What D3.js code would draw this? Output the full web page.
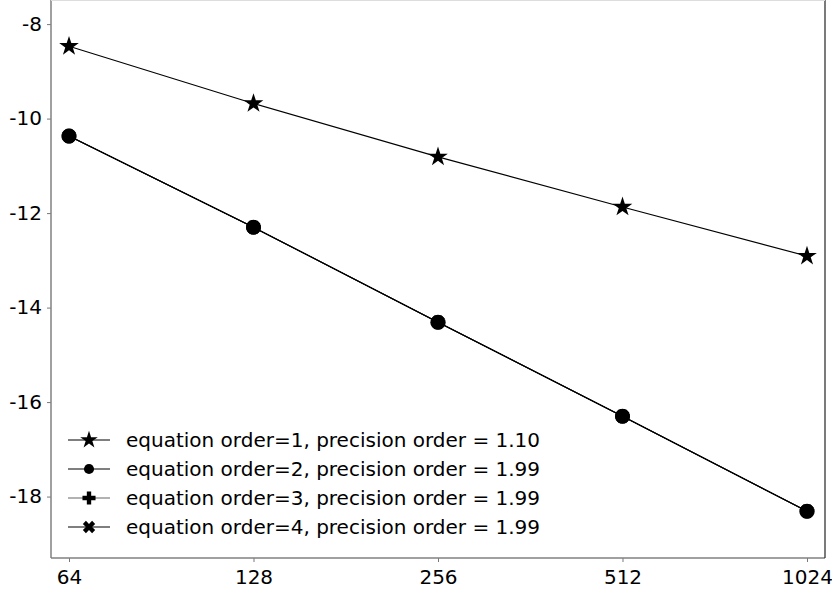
<!DOCTYPE html>
<html><head><meta charset="utf-8">
<script src="https://cdn.jsdelivr.net/npm/d3@7"></script>
<style>body{margin:0;background:#fff}svg{display:block}text{font-family:"DejaVu Sans",sans-serif}</style>
</head><body>
<svg id="c" width="832" height="593"></svg>
<script>
const xValues = [64, 128, 256, 512, 1024];
const xTickLabels = ["64", "128", "256", "512", "1024"];
const yTicks = [-18, -16, -14, -12, -10, -8];
const order1 = [-8.47, -9.68, -10.81, -11.87, -12.91];
const order2 = [-10.37, -12.30, -14.31, -16.30, -18.31];
const order3 = [-10.37, -12.30, -14.31, -16.30, -18.31];
const order4 = [-10.37, -12.30, -14.31, -16.30, -18.31];
const labels = [
  "equation order=1, precision order = 1.10",
  "equation order=2, precision order = 1.99",
  "equation order=3, precision order = 1.99",
  "equation order=4, precision order = 1.99"
];

const svg = d3.select("#c");
const L = 51, R = 825, T = 0, B = 558;
const x = d3.scaleLog().base(2).domain([Math.pow(2, 5.9024), Math.pow(2, 10.0976)]).range([L, R]);
const y = d3.scaleLinear().domain([-19.30, -7.49]).range([B, T]);

const xAxis = d3.axisBottom(x).tickValues(xValues).tickFormat((d, i) => xTickLabels[i]).tickSize(4).tickPadding(5);
const yAxis = d3.axisLeft(y).tickValues(yTicks).tickFormat(d => String(d)).tickSize(4).tickPadding(5);
const gx = svg.append("g").attr("transform", `translate(0,${B})`).call(xAxis);
const gy = svg.append("g").attr("transform", `translate(${L},0)`).call(yAxis);
[gx, gy].forEach(g => {
  g.select(".domain").remove();
  g.selectAll(".tick line").attr("stroke", "#555").attr("stroke-width", 0.8);
  g.selectAll(".tick text").attr("fill", "#000").style("font-size", "20px").style("font-family", "DejaVu Sans");
});
gx.selectAll(".tick text").attr("dy", "0.85em");

// spines
svg.append("line").attr("x1", L).attr("x2", L).attr("y1", T).attr("y2", B).attr("stroke", "#808080").attr("stroke-width", 1.5);
svg.append("line").attr("x1", L).attr("x2", R).attr("y1", B).attr("y2", B).attr("stroke", "#808080").attr("stroke-width", 1.5);
svg.append("line").attr("x1", R).attr("x2", R).attr("y1", T).attr("y2", B).attr("stroke", "#222").attr("stroke-width", 1.2);
svg.append("line").attr("x1", L).attr("x2", R).attr("y1", T + 0.5).attr("y2", T + 0.5).attr("stroke", "#ddd").attr("stroke-width", 1);

const line = d3.line().x((d, i) => x(xValues[i])).y(d => y(d));
const series = [
  {vals: order4, sym: "x", size: 120, op: 1},
  {vals: order3, sym: "plus", size: 120, op: 0.7},
  {vals: order2, sym: "circle", size: 175, op: 1},
  {vals: order1, sym: "star", size: 120, op: 1}
];

function symPath(sym, size) {
  if (sym === "circle") return d3.symbol(d3.symbolCircle, size)();
  if (sym === "star") return d3.symbol(d3.symbolStar, size)();
  return d3.symbol(d3.symbolCross, size)();
}
function symRot(sym) { return sym === "x" ? 45 : 0; }

series.forEach(s => {
  svg.append("path").attr("d", line(s.vals)).attr("fill", "none").attr("stroke", "#000").attr("stroke-width", 1.1).attr("opacity", s.op);
  svg.selectAll(null).data(s.vals).enter().append("path")
    .attr("d", symPath(s.sym, s.size))
    .attr("transform", (d, i) => `translate(${x(xValues[i])},${y(d)}) rotate(${symRot(s.sym)})`)
    .attr("fill", "#000");
});

// legend
const legSyms = [
  {sym: "star", size: 95, op: 1},
  {sym: "circle", size: 80, op: 1},
  {sym: "plus", size: 95, op: 0.6},
  {sym: "x", size: 95, op: 1}
];
const legY = [440, 469, 498, 527];
legSyms.forEach((s, i) => {
  const g = svg.append("g").attr("transform", `translate(0,${legY[i]})`);
  g.append("line").attr("x1", 68).attr("x2", 110).attr("y1", 0).attr("y2", 0).attr("stroke", "#000").attr("stroke-width", 1.1).attr("opacity", s.op);
  g.append("path").attr("d", symPath(s.sym, s.size)).attr("transform", `translate(89,0) rotate(${symRot(s.sym)})`).attr("fill", "#000");
  g.append("text").attr("x", 126).attr("y", 0).attr("dy", "0.35em").style("font-size", "20px").attr("fill", "#000").text(labels[i]);
});
</script>
</body></html>
